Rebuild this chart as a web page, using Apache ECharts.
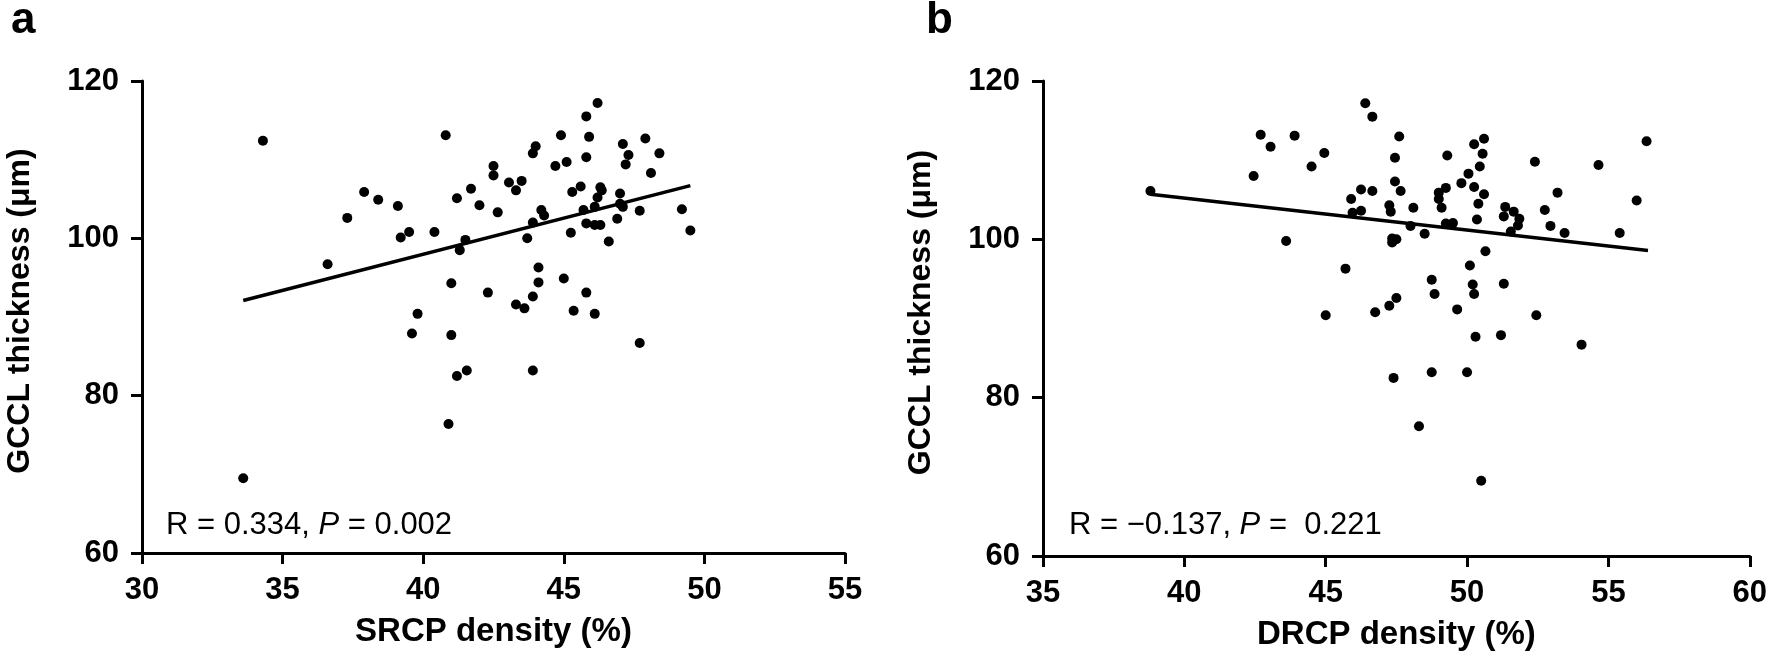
<!DOCTYPE html>
<html>
<head>
<meta charset="utf-8">
<script src="https://cdn.jsdelivr.net/npm/echarts@6/dist/echarts.min.js"></script>
<style>
html,body{margin:0;padding:0;background:#fff;}
#chart{width:1770px;height:659px;}
</style>
</head>
<body>
<div id="chart"></div>
<script>
// ---- Data ----
const srcpDensity = [
  34.3,40.8,42.5,42.5,43.05,37.9,38.4,39.1,37.3,41.2,41.7,42.0,42.65,39.2,39.5,40.4,41.5,41.3,36.6,41.0,42.3,39.8,39.6,41.0,
  46.2,45.8,44.9,45.9,47.9,47.1,44.0,43.9,48.4,47.3,45.8,45.1,44.7,47.2,48.1,43.5,43.3,45.6,46.3,46.35,45.3,47.0,46.2,
  44.2,44.3,45.7,46.1,47.1,47.0,47.7,49.2,49.5,43.9,43.7,45.8,46.1,46.3,46.9,45.25,46.6,
  44.1,44.1,45.0,45.8,43.9,43.3,43.6,45.35,46.1,47.7,
  41.2,41.55,43.9,40.9,33.6
];
const gcclA = [
  112.4,113.1,109.2,108.0,107.1,105.9,104.9,104.1,102.6,105.1,106.3,104.2,103.3,100.1,100.8,100.8,99.8,98.5,96.7,94.3,93.1,90.4,87.9,87.7,
  117.2,115.5,113.1,112.9,112.7,112.0,111.7,110.8,110.8,110.6,110.3,109.7,109.2,109.4,108.3,107.3,106.1,106.6,106.5,106.1,105.9,105.7,105.2,
  103.6,102.9,103.6,104.0,104.0,104.4,103.5,103.7,101.0,102.0,100.0,101.9,101.7,101.7,102.5,100.7,99.6,
  96.3,94.4,94.9,93.1,92.6,91.6,91.1,90.8,90.4,86.7,
  82.5,83.2,83.2,76.4,69.5
];
const drcpDensity = [
  38.8,42.7,43.05,43.9,44.95,44.5,42.45,43.6,45.7,45.0,
  46.4,46.65,47.6,47.45,50.6,50.25,50.55,49.3,50.45,50.05,52.4,54.65,56.35,47.45,47.65,46.25,46.65,45.9,45.95,46.25,47.25,47.3,48.1,48.0,48.5,47.35,47.5,47.35,49.8,49.25,49.0,49.0,49.1,50.25,50.6,50.4,50.35,49.25,49.5,51.35,51.3,51.65,51.85,51.8,51.55,52.75,53.2,52.95,53.45,55.4,56.0,50.65,
  50.1,48.75,50.2,51.3,48.85,50.25,47.5,47.25,46.75,49.65,52.45,50.3,51.2,54.05,
  47.4,48.75,50.0,48.3,50.5
];
const gcclB = [
  106.1,113.2,111.7,113.1,110.9,109.2,108.0,99.8,96.3,90.4,
  117.2,115.5,113.0,110.3,112.7,112.0,110.8,110.6,109.2,108.3,109.8,109.4,112.4,107.3,106.1,106.3,106.1,105.1,103.35,103.6,104.3,103.5,104.0,101.7,100.7,100.1,100.0,99.6,107.1,106.5,105.9,105.1,104.0,106.6,105.7,104.5,102.5,102.0,102.05,104.1,102.9,103.5,102.6,101.75,101.0,103.7,105.9,101.7,100.8,100.8,104.9,98.5,
  96.7,94.9,94.3,94.4,93.1,93.1,92.6,91.6,90.8,91.15,90.4,87.7,87.9,86.7,
  82.5,83.2,83.2,76.4,69.5
];
const fitAx = [33.6, 49.5];
const fitAy = [92.1, 106.7];
const fitBx = [38.8, 56.4];
const fitBy = [105.7, 98.6];
const yTicks = [60, 80, 100, 120];
const xTicksA = [30, 35, 40, 45, 50, 55];
const xTicksB = [35, 40, 45, 50, 55, 60];
const yTitle = 'GCCL thickness (μm)';
const xTitleA = 'SRCP density (%)';
const xTitleB = 'DRCP density (%)';
const statsA = ['R = 0.334, ', 'P', ' = 0.002'];
const statsB = ['R = \u22120.137, ', 'P', ' =  0.221'];

// ---- Build ----
const zip = (xs, ys) => xs.map((x, i) => [x, ys[i]]);
const FONT = '"Liberation Sans", Arial, Helvetica, sans-serif';
const BLACK = '#000';

function xAxis(gridIndex, ticks, name) {
  return {
    type: 'value', gridIndex,
    min: ticks[0], max: ticks[ticks.length - 1], interval: ticks[1] - ticks[0],
    name, nameLocation: 'middle', nameGap: 62,
    nameTextStyle: { fontFamily: FONT, fontWeight: 'bold', fontSize: 33, color: BLACK },
    axisLine: { show: true, onZero: false, lineStyle: { color: BLACK, width: 3 } },
    axisTick: { show: true, length: 11, lineStyle: { color: BLACK, width: 3 } },
    axisLabel: { fontFamily: FONT, fontWeight: 'bold', fontSize: 31, color: BLACK, margin: 22 },
    splitLine: { show: false }
  };
}
function yAxis(gridIndex) {
  return {
    type: 'value', gridIndex,
    min: yTicks[0], max: yTicks[yTicks.length - 1], interval: yTicks[1] - yTicks[0],
    name: yTitle, nameLocation: 'middle', nameGap: 106, nameRotate: 90,
    nameTextStyle: { fontFamily: FONT, fontWeight: 'bold', fontSize: 32, color: BLACK, padding: [0, 0, 0, 12] },
    axisLine: { show: true, onZero: false, lineStyle: { color: BLACK, width: 3 } },
    axisTick: { show: true, length: 11, lineStyle: { color: BLACK, width: 3 } },
    axisLabel: { fontFamily: FONT, fontWeight: 'bold', fontSize: 31, color: BLACK, margin: 23 },
    splitLine: { show: false }
  };
}
function statsTitle(parts, left) {
  return {
    left, top: 505,
    text: '{n|' + parts[0] + '}{i|' + parts[1] + '}{n|' + parts[2] + '}',
    textStyle: {
      fontWeight: 'normal',
      rich: {
        n: { fontFamily: FONT, fontSize: 31, fontWeight: 'normal', color: BLACK },
        i: { fontFamily: FONT, fontSize: 31, fontWeight: 'normal', fontStyle: 'italic', color: BLACK }
      }
    }
  };
}

const chart = echarts.init(document.getElementById('chart'), null, { renderer: 'canvas' });
chart.setOption({
  animation: false,
  backgroundColor: '#fff',
  title: [
    { text: 'a', left: 6, top: -6, textStyle: { fontFamily: FONT, fontWeight: 'bold', fontSize: 44, color: BLACK } },
    { text: 'b', left: 921, top: -6, textStyle: { fontFamily: FONT, fontWeight: 'bold', fontSize: 44, color: BLACK } },
    statsTitle(statsA, 161),
    statsTitle(statsB, 1064)
  ],
  grid: [
    { left: 142, top: 81, width: 703, height: 472 },
    { left: 1043, top: 81, width: 710, height: 475 }
  ],
  xAxis: [xAxis(0, xTicksA, xTitleA), xAxis(1, xTicksB, xTitleB)],
  yAxis: [yAxis(0), yAxis(1)],
  series: [
    { type: 'scatter', xAxisIndex: 0, yAxisIndex: 0, data: zip(srcpDensity, gcclA), symbolSize: 10, itemStyle: { color: BLACK, opacity: 1 } },
    { type: 'line', xAxisIndex: 0, yAxisIndex: 0, data: zip(fitAx, fitAy), symbol: 'none', lineStyle: { color: BLACK, width: 3.5 } },
    { type: 'scatter', xAxisIndex: 1, yAxisIndex: 1, data: zip(drcpDensity, gcclB), symbolSize: 10, itemStyle: { color: BLACK, opacity: 1 } },
    { type: 'line', xAxisIndex: 1, yAxisIndex: 1, data: zip(fitBx, fitBy), symbol: 'none', lineStyle: { color: BLACK, width: 3.5 } }
  ]
});
</script>
</body>
</html>
